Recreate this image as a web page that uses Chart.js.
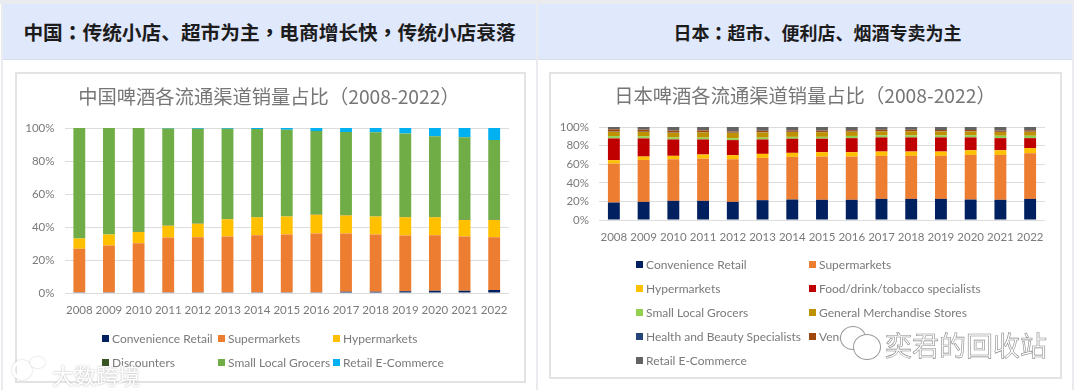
<!DOCTYPE html>
<html>
<head>
<meta charset="utf-8">
<title>啤酒流通渠道</title>
<script src="https://cdn.jsdelivr.net/npm/chart.js"></script>
<style>
  html, body { margin: 0; padding: 0; }
  body { width: 1080px; height: 390px; background: #fff; position: relative; overflow: hidden; font-family: Lato, "Noto Sans", sans-serif; }
  .head { position: absolute; top: 4px; height: 55px; background: #e0e8fc; border-bottom: 1px solid #d8deea; font: bold 19.7px "Noto Sans CJK SC", sans-serif; color: #1c1c1c; display: flex; align-items: center; justify-content: center; white-space: nowrap; }
  .head b { font-family: "Noto Sans CJK TC", sans-serif; white-space: pre; }
  .rail { position: absolute; background: #e9ebee; }
  .frame { position: absolute; background: #fff; border: 2px solid #e2e3e5; box-sizing: border-box; }
  canvas { position: absolute; left: 0; top: 0; }
  .legend { position: absolute; display: grid; color: #7a7a7a; font-size: 12px; white-space: nowrap; }
  .legend div { display: flex; align-items: center; }
  .legend i { width: 7px; height: 7px; margin-right: 3px; display: block; }
  .mark { position: absolute; font-family: "Noto Sans CJK SC", sans-serif; white-space: nowrap; }
  .ring { position: absolute; border-radius: 50%; box-sizing: border-box; }
</style>
</head>
<body>
<div class="rail" style="left:0;top:0;width:1074px;height:4px"></div>
<div class="rail" style="left:1px;top:0;width:2px;height:390px"></div>
<div class="rail" style="left:536px;top:0;width:2px;height:390px"></div>
<div class="rail" style="left:1072px;top:0;width:2px;height:390px"></div>
<div class="head" style="left:3px;width:533px">中国<b>：</b>传统小店、超市为主<b>，</b>电商增长快<b>，</b>传统小店衰落</div>
<div class="head" style="left:538px;width:534px;font-size:18px"><span style="margin-left:25px">日本<b>：</b>超市、便利店、烟酒专卖为主</span></div>

<div class="frame" style="left:15px;top:72px;width:511px;height:311px">
  <canvas id="chinaChart" width="507" height="307"></canvas>
  <div class="legend" id="chinaLegend" style="left:85px;top:252px;grid-template-columns:116px 115px 160px;grid-auto-rows:24.5px"></div>
</div>
<div class="frame" style="left:549px;top:72px;width:513px;height:307px">
  <canvas id="japanChart" width="509" height="303"></canvas>
  <div class="legend" id="japanLegend" style="left:85px;top:178px;grid-template-columns:173px 240px;grid-auto-rows:24px"></div>
</div>

<!-- watermarks that sit on top of the original picture -->
<div class="ring" style="left:12px;top:360px;width:20px;height:20px;border:3px solid #fff;box-shadow:0 0 2px #bbb"></div>
<div class="ring" style="left:30px;top:357px;width:15px;height:11px;border:2px solid #fff;box-shadow:0 0 2px #bbb"></div>
<div class="mark" style="left:52px;top:358px;font-size:22px;color:#fff;text-shadow:0 0 2px #aaa">大数跨境</div>
<div class="ring" style="left:840px;top:326px;width:26px;height:24px;border:1px solid #9a9a9a;background:#fff"></div>
<div class="ring" style="left:853px;top:334px;width:28px;height:26px;border:1px solid #9a9a9a;background:#fff"></div>
<div class="mark" style="left:885px;top:325px;font-size:27px;color:#fff;-webkit-text-stroke:0.6px #8a8a8a">奕君的回收站</div>

<script>
const years = ['2008', '2009', '2010', '2011', '2012', '2013', '2014', '2015', '2016', '2017', '2018', '2019', '2020', '2021', '2022'];
const yTicks = [0, 20, 40, 60, 80, 100];

// China, share of volume in %
const cnConvenience = [0.4, 0.4, 0.4, 0.4, 0.4, 0.4, 0.4, 0.5, 0.5, 0.8, 0.8, 1, 1.3, 1.3, 1.8];
const cnSupermarkets = [26.4, 28.4, 29.8, 33.2, 33.4, 33.8, 34.6, 34.9, 35.5, 35.2, 34.6, 33.8, 33.7, 32.9, 32];
const cnHypermarkets = [6.2, 6.6, 6.8, 7.2, 8.2, 10.5, 10.9, 10.9, 11.5, 11, 10.9, 11.1, 10.9, 10.1, 10.5];
const cnDiscounters = [0.1, 0.1, 0.1, 0.1, 0.1, 0.1, 0.1, 0.1, 0.1, 0.1, 0.1, 0.1, 0.1, 0.1, 0.1];
const cnGrocers = [66.9, 64.5, 62.9, 58.8, 57.5, 54.8, 53.4, 52.6, 50.6, 50.5, 51, 50.6, 49, 50, 48.4];
const cnEcommerce = [0, 0, 0, 0.3, 0.4, 0.4, 0.6, 1, 1.8, 2.4, 2.6, 3.4, 5, 5.6, 7.2];

// Japan, share of volume in %
const jpConvenience = [18.8, 19.5, 20.6, 20.6, 19.5, 21.3, 22, 21.7, 21.7, 22.7, 22.7, 22.7, 22, 21.7, 22.7];
const jpSupermarkets = [41.8, 45.1, 44.7, 45.4, 45.8, 45.5, 45.9, 46.5, 46.5, 46.3, 46.3, 46.3, 48, 48.3, 49.1];
const jpHypermarkets = [3.7, 3.6, 3.7, 4.4, 4.4, 4.3, 4.3, 4.7, 4.7, 4.6, 4.6, 4.6, 5, 5, 5.5];
const jpSpecialists = [23.4, 19.5, 17.6, 16.2, 16.2, 15.5, 15.2, 14.5, 15.1, 15.2, 15.2, 15.2, 13.8, 13, 10.7];
const jpGrocers = [2.5, 2.4, 2.2, 2, 2, 2, 2, 2, 2.4, 2.3, 2.2, 2.2, 2.4, 2.6, 2.6];
const jpGeneral = [4.6, 4.6, 5, 5.6, 5.8, 5.6, 5.2, 5, 4.5, 4.2, 4.4, 4.2, 4, 4, 4.2];
const jpHealth = [0.3, 0.3, 0.3, 0.3, 0.3, 0.3, 0.3, 0.3, 0.3, 0.3, 0.3, 0.3, 0.3, 0.3, 0.3];
const jpVending = [2.4, 2.2, 2, 1.8, 1.2, 1.4, 1.5, 1.4, 1.4, 1.4, 1.3, 1.3, 1.3, 1.3, 1.4];
const jpEcommerce = [2.5, 2.8, 3.9, 3.7, 4.8, 4.1, 3.6, 3.9, 3.4, 3, 3, 3.2, 3.2, 3.8, 3.5];

const tickFont = { family: 'Lato', size: 11.5 };
const tickColor = '#7a7a7a';

function series(label, data, color) {
  return { label, data, backgroundColor: color, categoryPercentage: 0.8, barPercentage: 0.5 };
}

function drawChart(id, legendId, titleText, datasets, area) {
  const chart = new Chart(document.getElementById(id), {
    type: 'bar',
    data: { labels: years, datasets },
    options: {
      responsive: false,
      animation: false,
      layout: { padding: { right: area.right, left: 0, top: 0, bottom: 0 } },
      plugins: {
        legend: { display: false },
        tooltip: { enabled: false },
        title: {
          display: true,
          text: titleText,
          color: '#767676',
          font: { family: 'Noto Sans CJK SC', size: 19.3, weight: 'normal', lineHeight: 1.2 },
          padding: { top: area.titleTop, bottom: area.top - area.titleTop - 23.16 }
        }
      },
      scales: {
        x: {
          stacked: true,
          grid: { display: false },
          border: { display: false },
          ticks: { color: tickColor, font: tickFont, padding: area.xPad, maxRotation: 0, autoSkip: false },
          afterFit: (scale) => { scale.height = area.xHeight; }
        },
        y: {
          stacked: true,
          min: 0,
          max: 100,
          afterBuildTicks: (scale) => { scale.ticks = yTicks.map((value) => ({ value })); },
          grid: { color: '#dcdcdc', drawTicks: false },
          border: { display: false },
          ticks: { color: tickColor, font: tickFont, padding: 10, callback: (v) => v + '%' },
          afterFit: (scale) => { scale.width = area.left; }
        }
      }
    },
    plugins: [{
      // the title is not quite centred on the frame in the original
      id: 'titleShift',
      afterLayout: (c) => {
        c.titleBlock.left += area.titleShift;
        c.titleBlock.right += area.titleShift;
      }
    }]
  });

  // legend built from the chart's own datasets, the columns line up like the original
  const box = document.getElementById(legendId);
  chart.data.datasets.forEach((ds) => {
    const row = document.createElement('div');
    const swatch = document.createElement('i');
    swatch.style.background = ds.backgroundColor;
    row.appendChild(swatch);
    row.appendChild(document.createTextNode(ds.label));
    box.appendChild(row);
  });
}

drawChart('chinaChart', 'chinaLegend', '中国啤酒各流通渠道销量占比（2008-2022）', [
  series('Convenience Retail', cnConvenience, '#002060'),
  series('Supermarkets', cnSupermarkets, '#ED7D31'),
  series('Hypermarkets', cnHypermarkets, '#FFC000'),
  series('Discounters', cnDiscounters, '#375623'),
  series('Small Local Grocers', cnGrocers, '#70AD47'),
  series('Retail E-Commerce', cnEcommerce, '#00B0F0')
], { left: 47.5, right: 15, top: 54, titleTop: 11, xHeight: 88, xPad: 2, titleShift: 6 });

drawChart('japanChart', 'japanLegend', '日本啤酒各流通渠道销量占比（2008-2022）', [
  series('Convenience Retail', jpConvenience, '#002060'),
  series('Supermarkets', jpSupermarkets, '#ED7D31'),
  series('Hypermarkets', jpHypermarkets, '#FFC000'),
  series('Food/drink/tobacco specialists', jpSpecialists, '#C00000'),
  series('Small Local Grocers', jpGrocers, '#92D050'),
  series('General Merchandise Stores', jpGeneral, '#BF9000'),
  series('Health and Beauty Specialists', jpHealth, '#264478'),
  series('Vending', jpVending, '#9E480E'),
  series('Retail E-Commerce', jpEcommerce, '#636363')
], { left: 48, right: 15, top: 53, titleTop: 10, xHeight: 157, xPad: 2, titleShift: 7 });
</script>
</body>
</html>
